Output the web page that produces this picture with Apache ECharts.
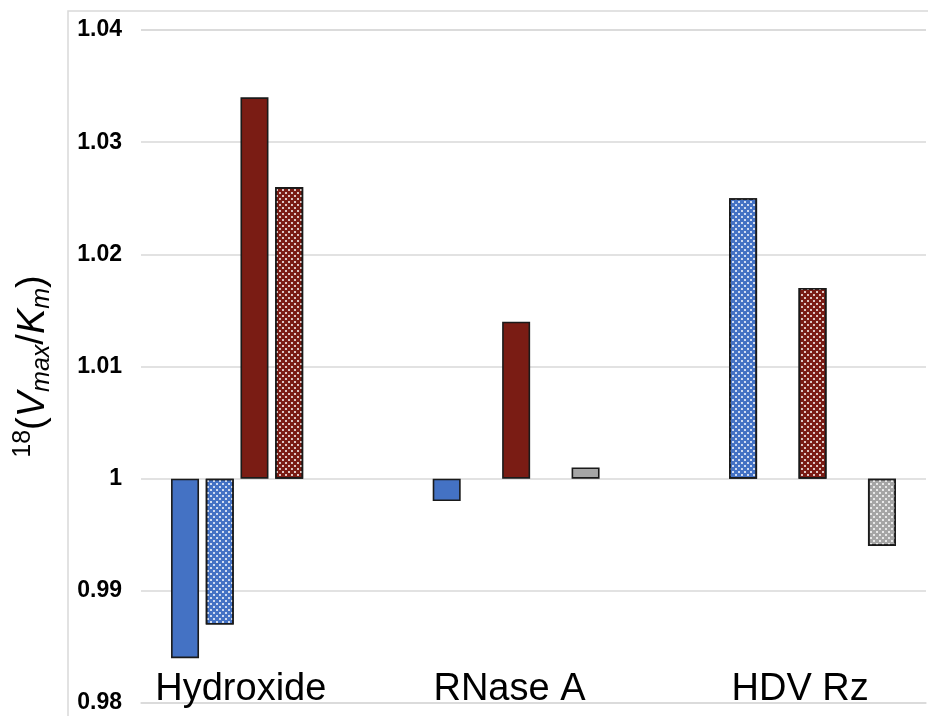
<!DOCTYPE html>
<html>
<head>
<meta charset="utf-8">
<script src="https://cdn.jsdelivr.net/npm/echarts@6/dist/echarts.min.js"></script>
<style>
  html, body { margin: 0; padding: 0; background: #fff; }
  #chart { width: 928px; height: 716px; }
</style>
</head>
<body>
<div id="chart"></div>
<script>
// Reaction systems along the x axis
const categories = ['Hydroxide', 'RNase A', 'HDV Rz'];

// 18(Vmax/Km) isotope effects per series (null = not measured)
const blueSolid  = [0.984, 0.998, null];
const blueDotted = [0.987, null, 1.025];
const redSolid   = [1.034, 1.014, null];
const redDotted  = [1.026, null, 1.017];
const greySolid  = [null, 1.001, null];
const greyDotted = [null, null, 0.994];

// Value axis tick labels (the bars rise or fall from 1)
const yTicks = [0.98, 0.99, 1, 1.01, 1.02, 1.03, 1.04];
const BASE = 1;

const FONT = '"Liberation Sans", Arial, Helvetica, sans-serif';

// Staggered white dot fill for the patterned bars
const dots = {
  symbol: 'rect',
  symbolSize: 1,
  color: 'rgba(255,255,255,0.75)',
  dashArrayX: [[1.1, 3.1], [0, 2.1, 1.1, 1]],
  dashArrayY: [1.1, 1],
  rotation: 0
};

function barSeries(name, values, color, dotted) {
  return {
    name: name,
    type: 'bar',
    barWidth: 28,
    barGap: '24%',
    data: values.map(v => (v === null ? null : v - BASE)),
    itemStyle: {
      color: color,
      borderColor: '#1a1a1a',
      borderWidth: 1.6,
      decal: dotted ? dots : null
    },
    emphasis: { disabled: true }
  };
}

// Per-label horizontal nudge of the category captions, in px
const labelShift = [-31, -24, 5];
const rich = {};
categories.forEach((c, i) => {
  const s = labelShift[i];
  rich['c' + i] = {
    fontFamily: FONT,
    fontSize: 38,
    color: '#000',
    padding: s < 0 ? [0, -2 * s, 0, 0] : [0, 0, 0, 2 * s]
  };
});

const chart = echarts.init(document.getElementById('chart'), null, { renderer: 'canvas' });

chart.setOption({
  animation: false,
  backgroundColor: '#fff',
  graphic: [{
    type: 'rect',
    shape: { x: 68, y: 11, width: 900, height: 800 },
    style: { fill: 'none', stroke: '#d9d9d9', lineWidth: 1.5 },
    silent: true,
    z: -10
  }],
  grid: { left: 141, right: 2, top: 30, bottom: 13 },
  xAxis: {
    type: 'category',
    data: categories,
    axisLine: { show: true, onZero: false, lineStyle: { color: '#d9d9d9', width: 1.5 } },
    axisTick: { show: false },
    axisLabel: {
      margin: 6,
      verticalAlign: 'bottom',
      formatter: (v, i) => '{c' + i + '|' + v + '}',
      rich: rich
    },
    splitLine: { show: false }
  },
  yAxis: {
    type: 'value',
    min: yTicks[0] - BASE,
    max: yTicks[yTicks.length - 1] - BASE,
    interval: 0.01,
    axisLine: { show: false },
    axisTick: { show: false },
    splitLine: { show: true, lineStyle: { color: '#d9d9d9', width: 1.5 } },
    axisLabel: {
      margin: 19,
      fontFamily: FONT,
      fontSize: 23,
      fontWeight: 'bold',
      color: '#000',
      formatter: v => String(parseFloat((v + BASE).toFixed(2)))
    },
    name: '{sup|18}{n|(}{i|V}{sub|max}{n|/}{i|K}{sub|m}{n|)}',
    nameLocation: 'middle',
    nameRotate: 90,
    nameGap: 86,
    nameTextStyle: {
      rich: {
        n:   { fontFamily: FONT, fontSize: 38, color: '#000', lineHeight: 44, verticalAlign: 'middle' },
        i:   { fontFamily: FONT, fontSize: 38, fontStyle: 'italic', color: '#000', lineHeight: 44, verticalAlign: 'middle' },
        sup: { fontFamily: FONT, fontSize: 25, color: '#000', lineHeight: 25, verticalAlign: 'top' },
        sub: { fontFamily: FONT, fontSize: 25, fontStyle: 'italic', color: '#000', lineHeight: 25, verticalAlign: 'bottom' }
      }
    }
  },
  series: [
    barSeries('blue', blueSolid, '#4472C4', false),
    barSeries('blue dotted', blueDotted, '#4472C4', true),
    barSeries('red', redSolid, '#7A1C14', false),
    barSeries('red dotted', redDotted, '#7A1C14', true),
    barSeries('grey', greySolid, '#A5A5A5', false),
    barSeries('grey dotted', greyDotted, '#A5A5A5', true)
  ]
});
</script>
</body>
</html>
